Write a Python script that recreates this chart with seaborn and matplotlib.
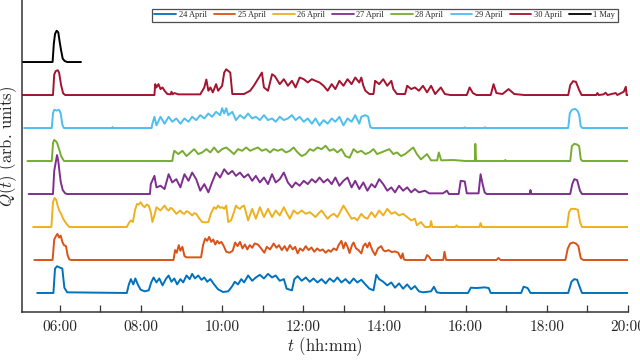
"""
Daily Q(t) profiles, 24 April - 1 May, stacked with a fixed vertical offset.
"""
import numpy as np
import pandas as pd
import matplotlib
matplotlib.use('Agg')
import matplotlib.pyplot as plt
import seaborn as sns

# ---- data: (hour of day, Q in arb. units) ----
DAYS = ['24 April', '25 April', '26 April', '27 April',
        '28 April', '29 April', '30 April', '1 May']
COLORS = ['#0072BD', '#D95319', '#EDB120', '#7E2F8E',
          '#77AC30', '#4DBEEE', '#A2142F', '#000000']

Q_24APR = [
    (5.44, 0), (5.84, 0), (5.88, 0.74), (5.93, 0.81), (6.00, 0.77), (6.06, 0.74),
    (6.11, 0.16), (6.18, 0.02), (7.65, 0), (7.70, 0.26), (7.75, 0.42), (7.81, 0.26),
    (7.86, 0.44), (7.92, 0.26), (7.99, 0.10), (8.09, 0.05), (8.19, 0.08), (8.25, 0.32),
    (8.31, 0.47), (8.38, 0.32), (8.45, 0.44), (8.53, 0.23), (8.61, 0.42), (8.68, 0.53),
    (8.75, 0.34), (8.82, 0.44), (8.89, 0.26), (8.97, 0.42), (9.04, 0.32), (9.12, 0.53),
    (9.20, 0.42), (9.26, 0.58), (9.33, 0.44), (9.41, 0.53), (9.49, 0.40), (9.56, 0.47),
    (9.63, 0.34), (9.71, 0.42), (9.80, 0.26), (9.90, 0.11), (10.02, 0.03), (10.15, 0.05),
    (10.25, 0.21), (10.31, 0.34), (10.39, 0.26), (10.47, 0.42), (10.54, 0.32), (10.64, 0.53),
    (10.74, 0.37), (10.83, 0.47), (10.93, 0.55), (11.03, 0.44), (11.13, 0.58), (11.23, 0.47),
    (11.32, 0.53), (11.42, 0.37), (11.52, 0.42), (11.59, 0.13), (11.72, 0.08), (11.78, 0.42),
    (11.86, 0.51), (11.96, 0.37), (12.06, 0.47), (12.16, 0.34), (12.25, 0.44), (12.35, 0.32),
    (12.45, 0.42), (12.55, 0.29), (12.65, 0.44), (12.75, 0.34), (12.84, 0.47), (12.94, 0.32),
    (13.04, 0.42), (13.14, 0.29), (13.24, 0.44), (13.33, 0.32), (13.43, 0.40), (13.53, 0.26),
    (13.63, 0.13), (13.73, 0.08), (13.80, 0.55), (13.87, 0.42), (13.97, 0.34), (14.07, 0.23),
    (14.17, 0.32), (14.26, 0.16), (14.36, 0.29), (14.46, 0.13), (14.56, 0.26), (14.66, 0.11),
    (14.75, 0.21), (14.85, 0.05), (14.95, 0.02), (15.15, 0.05), (15.22, 0.19), (15.29, 0.02),
    (15.39, 0), (16.06, 0), (16.13, 0.16), (16.27, 0.15), (16.47, 0.17), (16.57, 0.15),
    (16.62, 0), (17.37, 0), (17.43, 0.19), (17.53, 0.15), (17.60, 0), (18.53, 0),
    (18.61, 0.34), (18.68, 0.42), (18.75, 0.40), (18.82, 0.16), (18.87, 0), (20.0, 0),
]

Q_25APR = [
    (5.37, 0), (5.82, 0), (5.86, 0.62), (5.90, 0.72), (5.94, 0.79), (5.98, 0.68),
    (6.02, 0.74), (6.06, 0.55), (6.10, 0.45), (6.15, 0.42), (6.19, 0.15), (6.23, 0.02),
    (6.28, 0), (8.80, 0), (8.84, 0.30), (8.88, 0.22), (8.93, 0.45), (8.97, 0.28),
    (9.02, 0.40), (9.07, 0.12), (9.12, 0.08), (9.48, 0.08), (9.53, 0.45), (9.58, 0.65),
    (9.63, 0.58), (9.68, 0.70), (9.73, 0.55), (9.78, 0.62), (9.83, 0.47), (9.88, 0.58),
    (9.93, 0.50), (9.98, 0.55), (10.04, 0.42), (10.10, 0.25), (10.18, 0.22), (10.26, 0.28),
    (10.32, 0.53), (10.38, 0.42), (10.44, 0.55), (10.50, 0.35), (10.56, 0.47), (10.62, 0.32),
    (10.68, 0.45), (10.74, 0.37), (10.80, 0.50), (10.88, 0.47), (10.96, 0.35), (11.04, 0.22),
    (11.10, 0.40), (11.18, 0.32), (11.27, 0.50), (11.34, 0.37), (11.40, 0.45), (11.47, 0.30),
    (11.54, 0.42), (11.60, 0.28), (11.67, 0.45), (11.74, 0.32), (11.80, 0.40), (11.86, 0.20),
    (11.92, 0.35), (11.99, 0.28), (12.06, 0.42), (12.13, 0.30), (12.20, 0.38), (12.27, 0.25),
    (12.34, 0.35), (12.41, 0.28), (12.48, 0.32), (12.55, 0.22), (12.62, 0.30), (12.68, 0.25),
    (12.75, 0.35), (12.82, 0.30), (12.87, 0.45), (12.94, 0.58), (12.99, 0.35), (13.04, 0.53),
    (13.09, 0.40), (13.14, 0.21), (13.20, 0.45), (13.24, 0.53), (13.30, 0.35), (13.36, 0.30),
    (13.43, 0.20), (13.48, 0.42), (13.53, 0.50), (13.58, 0.38), (13.63, 0.53), (13.70, 0.30),
    (13.77, 0.15), (13.84, 0.35), (13.92, 0.42), (13.97, 0.30), (14.02, 0.26), (14.10, 0.30),
    (14.18, 0.24), (14.26, 0.26), (14.34, 0.22), (14.41, 0.05), (14.45, 0.20), (14.48, 0.02),
    (14.52, 0), (15.00, 0), (15.05, 0.15), (15.10, 0.10), (15.15, 0), (15.45, 0),
    (15.48, 0.25), (15.52, 0), (16.76, 0), (16.81, 0.06), (16.86, 0), (18.46, 0),
    (18.52, 0.35), (18.58, 0.50), (18.65, 0.53), (18.72, 0.50), (18.78, 0.42), (18.84, 0.05),
    (18.90, 0), (20.0, 0),
]

Q_26APR = [
    (5.34, 0), (5.79, 0), (5.83, 0.75), (5.87, 0.88), (5.91, 0.82), (5.95, 0.62),
    (5.99, 0.48), (6.03, 0.40), (6.08, 0.25), (6.16, 0.10), (6.23, 0), (7.65, 0),
    (7.70, 0.12), (7.75, 0.20), (7.80, 0.15), (7.85, 0.50), (7.90, 0.70), (7.94, 0.68),
    (7.99, 0.75), (8.04, 0.65), (8.09, 0.60), (8.14, 0.68), (8.19, 0.65), (8.24, 0.45),
    (8.28, 0.15), (8.33, 0.35), (8.38, 0.60), (8.43, 0.55), (8.48, 0.50), (8.53, 0.58),
    (8.58, 0.65), (8.63, 0.55), (8.68, 0.50), (8.73, 0.58), (8.77, 0.55), (8.82, 0.48),
    (8.87, 0.40), (8.92, 0.45), (8.97, 0.50), (9.02, 0.42), (9.07, 0.40), (9.12, 0.48),
    (9.17, 0.45), (9.22, 0.40), (9.26, 0.35), (9.31, 0.42), (9.36, 0.40), (9.44, 0.25),
    (9.51, 0.15), (9.60, 0.14), (9.66, 0.15), (9.72, 0.40), (9.80, 0.60), (9.85, 0.55),
    (9.90, 0.65), (9.95, 0.58), (10.00, 0.60), (10.05, 0.55), (10.10, 0.65), (10.15, 0.15),
    (10.22, 0.20), (10.29, 0.45), (10.34, 0.65), (10.39, 0.58), (10.44, 0.55), (10.49, 0.62),
    (10.54, 0.65), (10.64, 0.20), (10.74, 0.55), (10.83, 0.25), (10.93, 0.60), (11.03, 0.30),
    (11.13, 0.55), (11.23, 0.30), (11.32, 0.50), (11.42, 0.35), (11.52, 0.60), (11.60, 0.40),
    (11.67, 0.25), (11.76, 0.50), (11.86, 0.40), (11.96, 0.50), (12.06, 0.40), (12.16, 0.45),
    (12.23, 0.38), (12.30, 0.30), (12.38, 0.42), (12.45, 0.50), (12.52, 0.38), (12.60, 0.25),
    (12.68, 0.35), (12.75, 0.40), (12.84, 0.30), (12.92, 0.48), (12.99, 0.65), (13.04, 0.55),
    (13.09, 0.45), (13.19, 0.25), (13.26, 0.28), (13.33, 0.20), (13.43, 0.40), (13.50, 0.30),
    (13.58, 0.25), (13.68, 0.45), (13.77, 0.30), (13.87, 0.50), (13.97, 0.35), (14.07, 0.55),
    (14.17, 0.40), (14.26, 0.45), (14.36, 0.35), (14.46, 0.40), (14.56, 0.30), (14.66, 0.20),
    (14.75, 0.25), (14.80, 0.05), (14.90, 0.15), (15.00, 0), (15.12, 0), (15.15, 0.18),
    (15.18, 0), (15.75, 0), (15.78, 0.05), (15.81, 0), (16.34, 0), (16.37, 0.12),
    (16.40, 0), (18.50, 0), (18.55, 0.45), (18.60, 0.55), (18.70, 0.55), (18.77, 0.52),
    (18.82, 0.15), (18.87, 0), (20.0, 0),
]

Q_27APR = [
    (5.23, 0), (5.83, 0), (5.86, 0.70), (5.90, 0.98), (5.93, 1.18), (5.96, 1.00),
    (5.99, 0.67), (6.02, 0.37), (6.07, 0.12), (6.13, 0.02), (6.18, 0), (8.22, 0),
    (8.24, 0.30), (8.33, 0.55), (8.38, 0.20), (8.48, 0.25), (8.58, 0.15), (8.68, 0.60),
    (8.77, 0.35), (8.87, 0.45), (8.97, 0.20), (9.07, 0.60), (9.17, 0.40), (9.26, 0.65),
    (9.36, 0.45), (9.46, 0.10), (9.56, 0.30), (9.66, 0.05), (9.75, 0.35), (9.85, 0.65),
    (9.95, 0.50), (10.05, 0.75), (10.15, 0.60), (10.25, 0.70), (10.34, 0.55), (10.44, 0.65),
    (10.54, 0.50), (10.64, 0.60), (10.74, 0.40), (10.83, 0.55), (10.93, 0.35), (11.03, 0.50),
    (11.13, 0.30), (11.23, 0.60), (11.32, 0.35), (11.42, 0.45), (11.52, 0.65), (11.62, 0.35),
    (11.72, 0.20), (11.81, 0.35), (11.91, 0.25), (12.01, 0.40), (12.11, 0.30), (12.21, 0.45),
    (12.30, 0.35), (12.40, 0.50), (12.50, 0.35), (12.60, 0.45), (12.70, 0.30), (12.79, 0.50),
    (12.89, 0.25), (12.99, 0.40), (13.09, 0.50), (13.19, 0.20), (13.28, 0.40), (13.38, 0.15),
    (13.48, 0.35), (13.58, 0.10), (13.68, 0.30), (13.77, 0.20), (13.87, 0.45), (13.97, 0.30),
    (14.07, 0.10), (14.17, 0.20), (14.26, 0.05), (14.36, 0.25), (14.46, 0.10), (14.56, 0.20),
    (14.66, 0.05), (14.75, 0.15), (14.85, 0.05), (15.00, 0.10), (15.10, 0.02), (15.44, 0.02),
    (15.54, 0.10), (15.59, 0), (15.83, 0), (15.88, 0.40), (15.98, 0.38), (16.03, 0.02),
    (16.32, 0.02), (16.37, 0.60), (16.42, 0.30), (16.47, 0.05), (16.52, 0), (17.58, 0),
    (17.60, 0.12), (17.62, 0), (18.58, 0), (18.63, 0.30), (18.68, 0.45), (18.75, 0.42),
    (18.82, 0.10), (18.87, 0), (20.0, 0),
]

Q_28APR = [
    (5.20, 0), (5.80, 0), (5.83, 0.55), (5.86, 0.64), (5.90, 0.60), (5.93, 0.55),
    (5.98, 0.36), (6.03, 0.15), (6.10, 0), (8.77, 0), (8.80, 0.21), (8.82, 0.31),
    (8.92, 0.21), (9.02, 0.31), (9.12, 0.15), (9.22, 0.26), (9.31, 0.36), (9.41, 0.21),
    (9.51, 0.26), (9.61, 0.36), (9.71, 0.26), (9.80, 0.41), (9.90, 0.26), (10.00, 0.36),
    (10.10, 0.41), (10.20, 0.31), (10.29, 0.21), (10.39, 0.36), (10.49, 0.31), (10.59, 0.41),
    (10.69, 0.31), (10.78, 0.36), (10.88, 0.41), (10.98, 0.31), (11.08, 0.36), (11.18, 0.26),
    (11.27, 0.36), (11.37, 0.31), (11.47, 0.36), (11.57, 0.26), (11.67, 0.31), (11.76, 0.41),
    (11.86, 0.26), (11.96, 0.15), (12.06, 0.21), (12.16, 0.36), (12.25, 0.31), (12.35, 0.41),
    (12.45, 0.36), (12.55, 0.46), (12.65, 0.31), (12.75, 0.36), (12.84, 0.26), (12.94, 0.36),
    (13.04, 0.15), (13.14, 0.10), (13.24, 0.36), (13.33, 0.26), (13.43, 0.31), (13.53, 0.21),
    (13.63, 0.26), (13.73, 0.36), (13.82, 0.21), (13.92, 0.26), (14.02, 0.31), (14.12, 0.36),
    (14.22, 0.21), (14.31, 0.26), (14.41, 0.15), (14.51, 0.21), (14.61, 0.31), (14.71, 0.41),
    (14.80, 0.21), (14.90, 0.05), (15.05, 0.21), (15.15, 0.02), (15.30, 0.02), (15.34, 0.26),
    (15.40, 0.02), (15.70, 0.03), (16.00, 0), (16.23, 0), (16.24, 0.52), (16.26, 0),
    (16.96, 0), (16.98, 0.03), (17.00, 0), (18.58, 0), (18.62, 0.45), (18.68, 0.52),
    (18.75, 0.50), (18.80, 0.45), (18.84, 0.05), (18.88, 0), (20.0, 0),
]

Q_29APR = [
    (5.12, 0), (5.80, 0), (5.83, 0.45), (5.86, 0.55), (5.92, 0.53), (5.98, 0.55),
    (6.02, 0.45), (6.06, 0.10), (6.10, 0), (7.28, 0), (7.30, 0.03), (7.32, 0),
    (8.26, 0), (8.28, 0.13), (8.33, 0.34), (8.38, 0.08), (8.48, 0.34), (8.58, 0.13),
    (8.68, 0.34), (8.77, 0.19), (8.87, 0.29), (8.97, 0.13), (9.07, 0.29), (9.17, 0.19),
    (9.26, 0.34), (9.36, 0.24), (9.46, 0.39), (9.56, 0.29), (9.66, 0.44), (9.75, 0.34),
    (9.85, 0.49), (9.95, 0.39), (10.00, 0.60), (10.05, 0.44), (10.10, 0.60), (10.15, 0.39),
    (10.25, 0.49), (10.34, 0.24), (10.44, 0.39), (10.54, 0.29), (10.64, 0.44), (10.74, 0.29),
    (10.83, 0.34), (10.93, 0.24), (11.03, 0.39), (11.13, 0.24), (11.23, 0.29), (11.32, 0.19),
    (11.42, 0.34), (11.52, 0.24), (11.62, 0.29), (11.72, 0.39), (11.81, 0.24), (11.91, 0.34),
    (12.01, 0.19), (12.11, 0.29), (12.21, 0.13), (12.30, 0.29), (12.40, 0.08), (12.50, 0.24),
    (12.60, 0.13), (12.70, 0.29), (12.79, 0.19), (12.89, 0.34), (12.99, 0.08), (13.09, 0.29),
    (13.19, 0.19), (13.28, 0.39), (13.38, 0.13), (13.43, 0.34), (13.53, 0.39), (13.60, 0.34),
    (13.65, 0.03), (13.70, 0), (15.95, 0), (15.98, 0.02), (16.00, 0), (16.45, 0),
    (16.48, 0.02), (16.50, 0), (18.53, 0), (18.57, 0.45), (18.62, 0.55), (18.70, 0.58),
    (18.76, 0.52), (18.80, 0.40), (18.84, 0.05), (18.88, 0), (20.0, 0),
]

Q_30APR = [
    (5.05, 0), (5.83, 0), (5.86, 0.62), (5.90, 0.73), (5.95, 0.75), (5.98, 0.68),
    (6.03, 0.30), (6.08, 0.05), (6.13, 0), (8.33, 0), (8.35, 0.33), (8.38, 0.23),
    (8.43, 0.33), (8.48, 0.18), (8.53, 0.23), (8.58, 0.13), (8.65, 0.03), (8.73, 0.02),
    (8.75, 0.10), (8.78, 0.02), (8.82, 0.06), (8.92, 0.02), (9.46, 0.02), (9.56, 0.23),
    (9.61, 0.47), (9.66, 0.13), (9.71, 0.23), (9.77, 0.08), (9.85, 0.33), (9.90, 0.13),
    (10.00, 0.28), (10.05, 0.68), (10.10, 0.78), (10.15, 0.73), (10.20, 0.68), (10.25, 0.03),
    (10.54, 0.03), (10.69, 0.13), (10.78, 0.28), (10.88, 0.48), (10.98, 0.68), (11.03, 0.23),
    (11.13, 0.13), (11.23, 0.63), (11.30, 0.57), (11.42, 0.33), (11.52, 0.48), (11.62, 0.28),
    (11.72, 0.43), (11.81, 0.23), (11.91, 0.53), (12.01, 0.48), (12.11, 0.38), (12.21, 0.48),
    (12.30, 0.43), (12.40, 0.38), (12.50, 0.28), (12.60, 0.13), (12.70, 0.33), (12.79, 0.18),
    (12.89, 0.43), (12.99, 0.28), (13.09, 0.48), (13.19, 0.33), (13.28, 0.53), (13.38, 0.38),
    (13.43, 0.53), (13.48, 0.28), (13.53, 0.13), (13.63, 0.03), (13.73, 0.03), (13.77, 0.43),
    (13.87, 0.33), (13.97, 0.48), (14.07, 0.28), (14.17, 0.43), (14.22, 0.18), (14.31, 0.03),
    (14.51, 0.03), (14.56, 0.28), (14.66, 0.18), (14.75, 0.23), (14.85, 0.13), (14.95, 0.28),
    (15.05, 0.08), (15.15, 0.28), (15.25, 0.03), (15.39, 0.23), (15.49, 0.03), (15.63, 0),
    (16.03, 0), (16.10, 0.23), (16.18, 0.06), (16.27, 0), (16.62, 0), (16.69, 0.33),
    (16.76, 0.06), (16.91, 0.03), (17.06, 0.18), (17.20, 0.03), (17.45, 0), (18.53, 0),
    (18.58, 0.30), (18.65, 0.42), (18.72, 0.40), (18.80, 0.15), (18.86, 0), (19.22, 0),
    (19.25, 0.06), (19.28, 0), (19.40, 0.02), (19.45, 0.07), (19.50, 0), (19.70, 0.06),
    (19.74, 0), (19.90, 0.10), (19.95, 0.25), (19.97, 0), (20.0, 0),
]

Q_01MAY = [
    (5.05, 0), (5.82, 0), (5.85, 0.55), (5.88, 0.85), (5.92, 0.95), (5.96, 0.90),
    (5.99, 0.65), (6.03, 0.35), (6.07, 0.10), (6.12, 0.03), (6.18, 0), (6.52, 0),
]

SERIES = [Q_24APR, Q_25APR, Q_26APR, Q_27APR, Q_28APR, Q_29APR, Q_30APR, Q_01MAY]

TICK_HOURS = [6, 8, 10, 12, 14, 16, 18, 20]
TICK_LABELS = ['06:00', '08:00', '10:00', '12:00', '14:00', '16:00', '18:00', '20:00']

OFFSET = 1.0  # vertical spacing between days


def main():
    sns.set_theme(style='white')
    plt.rcParams['font.family'] = ['cmr10', 'DejaVu Serif']
    plt.rcParams['mathtext.fontset'] = 'cm'
    plt.rcParams['axes.formatter.use_mathtext'] = True

    fig = plt.figure(figsize=(6.4, 3.6), dpi=100)
    ax = fig.add_axes([0.034, 0.133, 0.947, 0.867])

    for i, (day, pts, col) in enumerate(zip(DAYS, SERIES, COLORS)):
        df = pd.DataFrame(pts, columns=['t', 'q'])
        df['y'] = df['q'] + i * OFFSET
        sns.lineplot(data=df, x='t', y='y', color=col, lw=1.4,
                     label=day, estimator=None, sort=False, ax=ax)

    ax.set_xlim(5.06, 20.0)
    ax.set_ylim(-0.58, 8.88)

    ax.set_xticks(TICK_HOURS)
    ax.set_xticklabels(TICK_LABELS, fontsize=11)
    ax.set_xticks(np.arange(7, 20, 2), minor=True)
    ax.tick_params(axis='x', which='both', direction='in', length=5,
                   width=0.9, color='#333333', bottom=True, top=False, pad=6)
    ax.set_yticks([])

    for side in ['top', 'right']:
        ax.spines[side].set_visible(False)
    for side in ['left', 'bottom']:
        ax.spines[side].set_color('#333333')
        ax.spines[side].set_linewidth(1.1)

    ax.set_xlabel('$t$ (hh:mm)', fontsize=12, labelpad=1)
    ax.set_ylabel('$Q(t)$ (arb. units)', fontsize=12)
    ax.yaxis.set_label_coords(-0.004, 0.53)

    leg = ax.legend(loc='upper right', bbox_to_anchor=(0.99, 0.985), ncol=8,
                    prop={'family': 'Liberation Serif', 'size': 6},
                    handlelength=2.6, handletextpad=0.3, columnspacing=0.85,
                    borderpad=0.3, fancybox=False, frameon=True)
    leg.get_frame().set_edgecolor('#222222')
    leg.get_frame().set_linewidth(0.9)
    for line in leg.get_lines():
        line.set_linewidth(1.3)

    fig.savefig('out.png', dpi=100)
    plt.close(fig)


if __name__ == '__main__':
    main()
